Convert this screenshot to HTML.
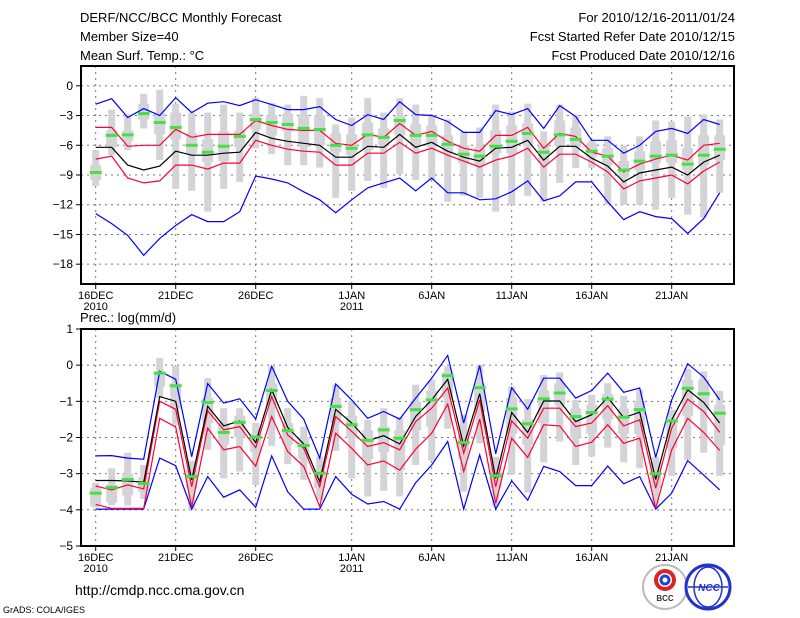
<!DOCTYPE html>
<html><head><meta charset="utf-8"><title>DERF/NCC/BCC Monthly Forecast</title>
<style>
html,body{margin:0;padding:0;background:#fff;}
body{width:800px;height:618px;overflow:hidden;position:relative;font-family:"Liberation Sans",sans-serif;}
svg{position:absolute;left:0;top:0;}
text{font-family:"Liberation Sans",sans-serif;}
</style></head>
<body>
<svg id="chart" width="800" height="618" viewBox="0 0 800 618">
  <text x="80" y="22" font-size="13">DERF/NCC/BCC Monthly Forecast</text>
  <text x="80" y="41" font-size="13">Member Size=40</text>
  <text x="80" y="60" font-size="13">Mean Surf. Temp.: °C</text>
  <text x="735" y="22" font-size="13" text-anchor="end">For 2010/12/16-2011/01/24</text>
  <text x="735" y="41" font-size="13" text-anchor="end">Fcst Started Refer Date 2010/12/15</text>
  <text x="735" y="60" font-size="13" text-anchor="end">Fcst Produced Date 2010/12/16</text>
  <text x="80" y="322" font-size="13">Prec.: log(mm/d)</text>
  <text x="75" y="595" font-size="14">http://cmdp.ncc.cma.gov.cn</text>
  <text x="3" y="613" font-size="9">GrADS: COLA/IGES</text>
  <g>
    <circle cx="665" cy="587" r="22" fill="#fff" stroke="#bbb" stroke-width="2"/>
    <circle cx="665" cy="580" r="9" fill="none" stroke="#d22" stroke-width="4"/>
    <circle cx="665" cy="580" r="4" fill="none" stroke="#24c" stroke-width="3"/>
    <text x="665" y="601" font-size="8" font-weight="bold" text-anchor="middle" fill="#333">BCC</text>
  </g>
  <g>
    <circle cx="708" cy="587" r="22" fill="#fff" stroke="#23c" stroke-width="3"/>
    <ellipse cx="708" cy="587" rx="14" ry="20" fill="none" stroke="#23c" stroke-width="1.5"/>
    <line x1="688" y1="587" x2="728" y2="587" stroke="#23c" stroke-width="1.5"/>
    <text x="709" y="591" font-size="10" font-weight="bold" text-anchor="middle" fill="#23c" font-style="italic">NCC</text>
  </g>
  <g id="top"></g>
  <g id="bot"></g>
</svg>
<script>
// ---- data: temperature panel ----
const days = ["16DEC","21DEC","26DEC","1JAN","6JAN","11JAN","16JAN","21JAN"];
const dayIdx = [0,5,10,16,21,26,31,36];
const yearLabels = ["2010","2011"];
const yearIdx = [0,16];
const tTicks = [0,-3,-6,-9,-12,-15,-18];
const pTicks = [1,0,-1,-2,-3,-4,-5];

const tMean = [-6.2,-6.2,-8.0,-8.5,-8.1,-6.6,-7.0,-7.0,-6.8,-6.7,-4.7,-5.3,-5.6,-5.8,-6.0,-7.2,-7.2,-6.1,-6.2,-4.9,-6.2,-5.7,-6.6,-7.2,-7.6,-6.3,-6.2,-5.5,-7.5,-6.1,-6.1,-7.3,-8.1,-9.7,-8.8,-8.5,-8.2,-9.0,-7.7,-7.0];
const tRedHi = [-4.2,-4.2,-6.1,-6.0,-6.0,-4.4,-5.2,-4.9,-4.9,-4.9,-3.5,-4.0,-4.4,-4.5,-4.5,-5.8,-6.0,-4.9,-5.2,-3.8,-5.0,-4.6,-5.6,-6.3,-6.6,-5.0,-5.0,-4.2,-6.3,-4.8,-5.1,-6.7,-7.1,-8.7,-7.9,-7.4,-7.0,-7.5,-6.0,-5.8];
const tRedLo = [-7.4,-7.1,-9.3,-9.8,-9.6,-8.0,-8.0,-8.4,-7.8,-7.8,-5.5,-6.0,-6.4,-6.6,-6.7,-8.0,-8.0,-6.8,-6.8,-5.7,-6.8,-6.3,-7.0,-7.6,-8.2,-7.5,-7.1,-6.3,-8.2,-6.9,-6.9,-7.7,-8.7,-10.4,-9.6,-9.3,-9.0,-9.9,-8.6,-7.7];
const tMax = [-1.85,-1.3,-3.2,-2.3,-3.0,-1.2,-2.7,-1.75,-1.6,-2.0,-1.4,-1.9,-2.4,-2.4,-2.1,-3.4,-4.0,-2.9,-3.4,-1.6,-2.9,-3.0,-3.6,-4.7,-4.7,-2.5,-2.9,-2.3,-4.3,-2.0,-3.1,-5.5,-5.5,-6.8,-6.0,-4.6,-4.3,-4.8,-3.4,-3.9];
const tMin = [-12.9,-13.9,-15.1,-17.1,-15.4,-14.1,-13.0,-13.7,-13.7,-12.7,-9.1,-9.4,-9.8,-10.7,-11.5,-12.8,-11.5,-10.3,-9.8,-9.3,-10.6,-9.3,-10.8,-10.8,-11.5,-11.4,-10.7,-9.6,-11.6,-11.1,-9.7,-9.7,-11.7,-13.5,-12.7,-13.2,-13.4,-14.9,-13.4,-10.8];
const tGreen = [-8.75,-5.0,-4.95,-2.8,-3.7,-4.2,-6.0,-6.7,-6.1,-5.1,-3.4,-3.7,-3.9,-4.3,-4.4,-6.0,-6.3,-4.95,-5.2,-3.5,-5.0,-5.0,-5.9,-6.9,-7.1,-6.1,-5.6,-4.8,-6.7,-4.95,-5.4,-6.6,-7.1,-8.5,-7.6,-7.1,-7.0,-7.9,-7.0,-6.4];
const tWHi = [-6.5,-2.4,-2.9,-0.8,-0.4,-1.8,-2.7,-2.7,-1.9,-2.7,-1.2,-1.75,-1.9,-1.0,-1.25,-3.9,-3.2,-1.25,-2.7,-1.25,-1.9,-2.9,-3.4,-4.6,-4.2,-1.9,-2.6,-1.8,-4.6,-1.9,-2.9,-5.5,-5.1,-6.0,-5.1,-3.5,-3.6,-3.1,-2.9,-3.4];
const tWLo = [-10.1,-7.0,-6.5,-4.3,-7.5,-10.4,-10.6,-12.7,-10.4,-9.7,-6.3,-6.9,-8.0,-8.0,-8.25,-11.3,-10.6,-9.6,-10.3,-8.9,-9.5,-9.5,-11.7,-11.1,-11.3,-12.7,-12.0,-11.1,-11.7,-9.8,-8.3,-8.3,-12.0,-12.0,-12.0,-12.5,-11.3,-13.0,-13.3,-10.8];
const tBHi = [-8.0,-4.5,-4.5,-1.8,-2.7,-2.7,-4.8,-5.4,-4.6,-4.5,-2.8,-3.0,-2.8,-2.9,-3.0,-4.8,-4.9,-3.7,-4.3,-3.0,-3.9,-4.0,-5.0,-6.0,-6.2,-4.5,-4.0,-3.8,-6.0,-3.5,-4.2,-5.8,-6.3,-7.6,-6.6,-5.6,-5.5,-6.3,-5.0,-5.0];
const tBLo = [-9.5,-6.2,-5.6,-3.4,-4.9,-5.4,-6.8,-7.7,-7.6,-6.2,-4.4,-5.0,-4.6,-6.2,-6.0,-6.7,-7.0,-6.5,-6.0,-5.0,-6.0,-6.2,-6.8,-7.8,-8.0,-6.8,-6.8,-6.0,-7.8,-6.0,-6.2,-7.2,-8.0,-9.2,-8.5,-7.8,-7.8,-8.5,-8.0,-7.5];

// ---- data: precipitation panel ----
const pMean = [-3.19,-3.19,-3.2,-3.24,-0.87,-1.0,-3.17,-1.14,-1.68,-1.54,-2.14,-0.68,-1.72,-2.18,-3.22,-1.22,-1.6,-2.09,-1.95,-2.18,-1.42,-0.96,-0.39,-2.23,-0.79,-3.13,-1.31,-1.86,-0.99,-0.99,-1.56,-1.37,-0.89,-1.45,-1.30,-3.16,-1.51,-0.68,-1.03,-1.6];
const pRedHi = [-3.34,-3.45,-3.31,-3.42,-1.0,-1.22,-3.36,-1.26,-1.79,-1.7,-2.28,-0.87,-1.93,-2.3,-3.36,-1.42,-1.83,-2.25,-2.14,-2.34,-1.56,-1.19,-0.63,-2.43,-0.96,-3.36,-1.54,-2.02,-1.19,-1.19,-1.70,-1.6,-1.12,-1.68,-1.51,-3.4,-1.74,-0.94,-1.28,-1.86];
const pRedLo = [-3.85,-3.96,-3.96,-3.96,-1.47,-1.71,-3.91,-1.74,-2.34,-2.25,-2.79,-1.42,-2.39,-2.8,-3.91,-1.88,-2.3,-2.76,-2.65,-2.9,-2.32,-1.88,-1.08,-2.94,-1.49,-3.82,-2.02,-2.55,-1.65,-1.68,-2.25,-2.13,-1.65,-2.16,-2.02,-3.96,-2.34,-1.47,-1.86,-2.36];
const pMax = [-2.51,-2.5,-2.57,-2.6,-0.17,-0.39,-2.53,-0.51,-1.05,-0.93,-1.49,-0.03,-1.0,-1.49,-2.57,-0.52,-0.96,-1.47,-1.28,-1.49,-0.91,-0.36,0.27,-1.6,-0.01,-2.45,-0.62,-1.22,-0.36,-0.36,-0.91,-0.7,-0.22,-0.75,-0.63,-2.55,-0.96,0.04,-0.33,-0.96];
const pMin = [-3.98,-3.98,-3.98,-3.98,-2.57,-2.78,-3.98,-3.08,-3.65,-3.45,-3.93,-2.51,-3.5,-3.98,-3.98,-3.08,-3.57,-3.84,-3.77,-3.98,-3.25,-2.76,-2.11,-3.98,-2.48,-3.98,-3.2,-3.73,-2.8,-2.94,-3.33,-3.33,-2.79,-3.28,-3.08,-3.98,-3.54,-2.64,-3.04,-3.45];
const pGreen = [-3.54,-3.38,-3.16,-3.27,-0.22,-0.57,-3.08,-1.03,-1.86,-1.58,-1.99,-0.7,-1.81,-2.22,-2.99,-1.14,-1.65,-2.08,-1.79,-2.02,-1.23,-0.96,-0.29,-2.14,-0.62,-3.06,-1.21,-1.62,-0.93,-0.77,-1.42,-1.31,-0.94,-1.44,-1.23,-3.0,-1.54,-0.64,-0.79,-1.33];
const pWHi = [-3.25,-2.85,-2.42,-2.76,0.2,-0.02,-2.64,-0.36,-1.19,-1.19,-1.6,-0.03,-1.19,-1.7,-2.53,-0.54,-0.98,-1.51,-1.19,-1.44,-0.54,-0.40,-0.03,-1.37,0.01,-2.53,-0.59,-0.94,-0.27,-0.2,-0.96,-0.82,-0.5,-0.85,-0.68,-2.53,-1.23,-0.1,-0.17,-0.71];
const pWLo = [-3.94,-3.87,-3.88,-3.7,-0.91,-1.65,-4.0,-2.34,-3.13,-2.94,-3.31,-2.23,-2.74,-3.17,-3.73,-2.37,-3.13,-3.63,-3.47,-3.63,-2.76,-2.64,-1.76,-3.5,-2.16,-3.91,-3.03,-3.52,-2.69,-2.11,-2.76,-2.53,-2.28,-2.69,-2.85,-3.87,-3.06,-2.62,-2.42,-3.06];
const pBHi = [-3.4,-3.3,-3.0,-3.1,-0.2,-0.5,-2.9,-0.9,-1.6,-1.4,-1.9,-0.5,-1.6,-2.0,-2.9,-0.9,-1.4,-1.8,-1.7,-1.8,-1.0,-0.7,-0.2,-1.9,-0.5,-2.8,-0.9,-1.5,-0.7,-0.5,-1.2,-1.1,-0.8,-1.2,-1.0,-2.7,-1.5,-0.4,-0.4,-1.1];
const pBLo = [-3.9,-3.8,-3.6,-3.5,-0.6,-1.2,-3.4,-1.6,-2.2,-2.0,-2.4,-1.1,-2.2,-2.6,-3.4,-1.6,-2.0,-2.6,-2.4,-2.9,-1.8,-1.7,-0.9,-2.6,-1.3,-3.4,-1.9,-2.2,-1.6,-1.1,-2.0,-1.9,-1.5,-1.9,-1.9,-3.4,-2.3,-1.4,-1.2,-2.2];

const NS = "http://www.w3.org/2000/svg";
const X0 = 81, X1 = 734, D0 = 95.7, DW = 16.0;
function xs(d){ return D0 + d*DW; }
function mk(parent, tag, attrs){
  const e = document.createElementNS(NS, tag);
  for (const k in attrs) e.setAttribute(k, attrs[k]);
  parent.appendChild(e);
  return e;
}

function panel(gid, top, bottom, vmax, vmin, ticks, s, prefix){
  const g = document.getElementById(gid);
  
  
  const ys = v => top + (vmax - v) / (vmax - vmin) * (bottom - top);
  // grid
  ticks.forEach(t => {
    const y = ys(t);
    if (y > top + 1 && y < bottom - 1) {
      const l = mk(g, 'line', {x1:X0, x2:X1, y1:y, y2:y, stroke:'#777', 'stroke-width':1, 'stroke-dasharray':'2,4'});
      
      
    }
    const tk = mk(g, 'line', {x1:X0-5, x2:X0, y1:y, y2:y, stroke:'#000', 'stroke-width':1});
    
    
    const lb = mk(g, 'text', {x:X0-8, y:y+4, 'font-size':12, 'text-anchor':'end'});
    lb.textContent = String(t).replace('-', '\u2212');
    
    
  });
  dayIdx.forEach((d, i) => {
    const x = xs(d);
    const l = mk(g, 'line', {x1:x, x2:x, y1:top, y2:bottom, stroke:'#777', 'stroke-width':1, 'stroke-dasharray':'2,4'});
    
    
    const tk = mk(g, 'line', {x1:x, x2:x, y1:bottom, y2:bottom+5, stroke:'#000', 'stroke-width':1});
    
    
    const lb = mk(g, 'text', {x:x, y:bottom+15, 'font-size':11, 'text-anchor':'middle'});
    lb.textContent = days[i];
    
    
  });
  yearIdx.forEach((d, i) => {
    const lb = mk(g, 'text', {x:xs(d), y:bottom+26, 'font-size':11, 'text-anchor':'middle'});
    lb.textContent = yearLabels[i];
    
    
  });
  // gray bars
  s.wHi.forEach((v, d) => {
    const x = xs(d);
    const w = mk(g, 'rect', {x:x-3.5, y:ys(v), width:7, height:Math.max(1, ys(s.wLo[d]) - ys(v)), fill:'#d3d3d8'});
    
    
    const b = mk(g, 'rect', {x:x-5.5, y:ys(s.bHi[d]), width:11, height:Math.max(1, ys(s.bLo[d]) - ys(s.bHi[d])), fill:'#d3d3d8'});
    
    
  });
  // lines
  const line = (arr, col, name) => {
    const p = mk(g, 'polyline', {points: arr.map((v, d) => xs(d).toFixed(1) + ',' + ys(v).toFixed(1)).join(' '), fill:'none', stroke:col, 'stroke-width':1.2});
    
    
  };
  line(s.max, '#0000ff', prefix + '-max-line');
  line(s.min, '#0000ff', prefix + '-min-line');
  line(s.redHi, '#ff0030', prefix + '-upper-line');
  line(s.redLo, '#ff0030', prefix + '-lower-line');
  line(s.mean, '#000', prefix + '-mean-line');
  s.green.forEach((v, d) => {
    const r = mk(g, 'rect', {x:xs(d)-6, y:ys(v)-1.5, width:12, height:3, fill:'#44e044'});
    
    
  });
  const f = mk(g, 'rect', {x:X0, y:top, width:X1-X0, height:bottom-top, fill:'none', stroke:'#000', 'stroke-width':2});
  
  
}

panel('top', 66, 284, 2, -20, tTicks,
  {mean:tMean, redHi:tRedHi, redLo:tRedLo, max:tMax, min:tMin, green:tGreen, wHi:tWHi, wLo:tWLo, bHi:tBHi, bLo:tBLo}, 'temp');
panel('bot', 329, 546, 1, -5, pTicks,
  {mean:pMean, redHi:pRedHi, redLo:pRedLo, max:pMax, min:pMin, green:pGreen, wHi:pWHi, wLo:pWLo, bHi:pBHi, bLo:pBLo}, 'precip');
</script>
</body></html>
